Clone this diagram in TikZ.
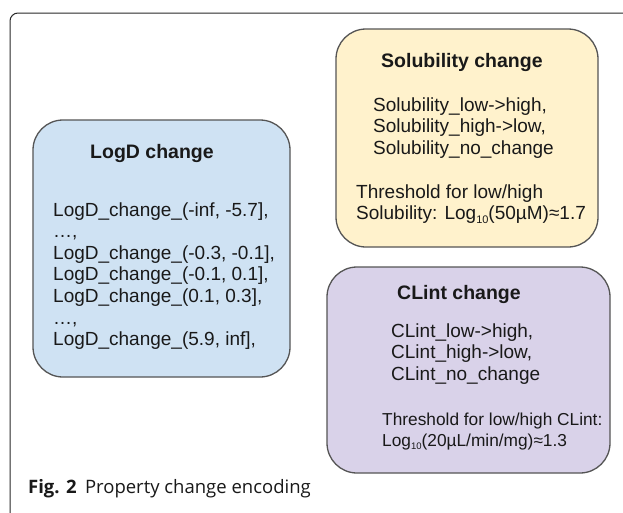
\documentclass[tikz,border=0pt]{standalone}
\usepackage{fontspec}
\setmainfont{Liberation Sans}
\newfontfamily\capfont{Open Sans}
\definecolor{logdfill}{RGB}{207,226,243}
\definecolor{solfill}{RGB}{255,242,204}
\definecolor{clfill}{RGB}{217,210,233}
\definecolor{boxline}{RGB}{85,85,85}
\definecolor{framecol}{RGB}{40,40,40}
\definecolor{txtcol}{RGB}{25,25,25}
\newcommand{\lgsub}[2]{\raisebox{-0.35ex}{\fontsize{#1}{#1}\selectfont #2}}
\begin{document}
\begin{tikzpicture}[x=1pt,y=-1pt,
  txt/.style={anchor=base west, inner sep=0pt, text=txtcol, font=\fontsize{19}{21.6}\selectfont},
  smtxt/.style={anchor=base west, inner sep=0pt, text=txtcol, font=\fontsize{17.3}{21.6}\selectfont},
  hd/.style={anchor=base west, inner sep=0pt, text=txtcol, font=\fontsize{19.5}{21.6}\selectfont\bfseries},
  box/.style={draw=boxline, line width=1.3pt, rounded corners=30pt, inner sep=0pt}]
\useasboundingbox (0,0) rectangle (623,512);
\fill[white] (0,0) rectangle (623,512);
\draw[framecol, line width=1pt, rounded corners=8pt] (640,13) -- (10,13) -- (10,530);
% boxes
\node[box, fill=logdfill, minimum width=257pt, minimum height=257pt] (logd) at (161.5,248.5) {};
\node[box, fill=solfill, minimum width=262pt, minimum height=218pt] (sol) at (467,138) {};
\node[box, fill=clfill, minimum width=283pt, minimum height=206pt] (cl) at (468.5,370) {};
% LogD
\node[hd] (logdh) at (90,158) {LogD change};
\node[txt] (l1) at (53,216) {LogD\_change\_(-inf, -5.7],};
\node[txt] (l2) at (53,237.6) {…,};
\node[txt] (l3) at (53,259.2) {LogD\_change\_(-0.3, -0.1],};
\node[txt] (l4) at (53,280.8) {LogD\_change\_(-0.1, 0.1],};
\node[txt] (l5) at (53,302.4) {LogD\_change\_(0.1, 0.3],};
\node[txt] (l6) at (53,324) {…,};
\node[txt] (l7) at (53,345.6) {LogD\_change\_(5.9, inf],};
% Solubility
\node[hd] (solh) at (381,67) {Solubility change};
\node[txt] (s1) at (373,111) {Solubility\_low->high,};
\node[txt] (s2) at (373,132.6) {Solubility\_high->low,};
\node[txt] (s3) at (373,154.2) {Solubility\_no\_change};
\node[txt] (s4) at (356,198) {Threshold for low/high};
\node[txt] (s5) at (356,219.6) {Solubility: Log\lgsub{11}{10}(50µM)≈1.7};
% CLint
\node[hd] (clh) at (397,299) {CLint change};
\node[txt] (c1) at (391,337) {CLint\_low->high,};
\node[txt] (c2) at (391,358.6) {CLint\_high->low,};
\node[txt] (c3) at (391,380.2) {CLint\_no\_change};
\node[smtxt] (c4) at (382,425) {Threshold for low/high CLint:};
\node[smtxt] (c5) at (382,446.6) {Log\lgsub{9.5}{10}(20µL/min/mg)≈1.3};
% caption
\node[anchor=base west, inner sep=0pt, text=txtcol, font=\capfont\fontsize{18.5}{20}\selectfont] (cap) at (28,493) {\textbf{Fig. 2}\hspace{0.45em}Property change encoding};
\end{tikzpicture}
\end{document}
